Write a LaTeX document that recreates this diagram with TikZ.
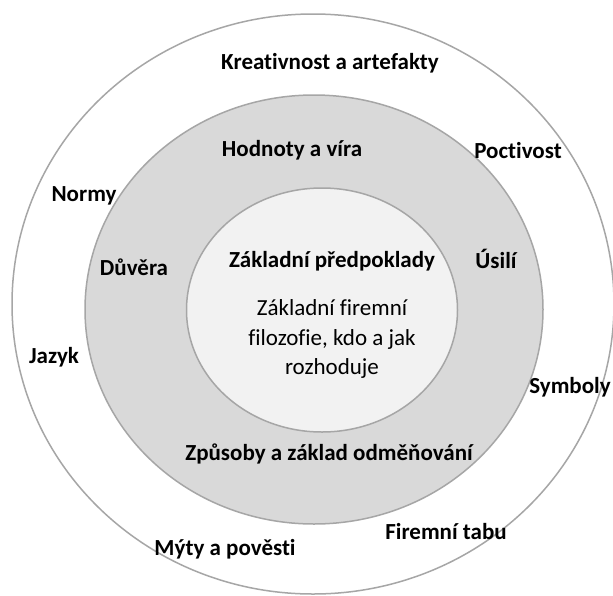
\documentclass[tikz,border=0pt]{standalone}
\usepackage{fontspec}
\setmainfont{Carlito}[Ligatures=NoCommon]
\definecolor{ringline}{HTML}{A6A6A6}
\definecolor{midfill}{HTML}{D9D9D9}
\definecolor{corefill}{HTML}{F2F2F2}
\begin{document}
\begin{tikzpicture}[x=1pt,y=-1pt,
  ring/.style={draw=ringline,line width=1.5pt},
  lbl/.style={font=\fontsize{23}{27}\selectfont\bfseries,anchor=base,inner sep=0pt},
  core/.style={font=\fontsize{23}{31}\selectfont,anchor=base,inner sep=0pt}]
\useasboundingbox[fill=white] (0,0) rectangle (613,595);
% three nested layers
\draw[ring,fill=white] (313,304) ellipse [x radius=301,y radius=290];
\draw[ring,fill=midfill] (314,309.5) ellipse [x radius=229,y radius=214.5];
\draw[ring,fill=corefill] (322,310) ellipse [x radius=135.5,y radius=122];
% outer layer
\node[lbl] (kreat) at (330,69) {Kreativnost a artefakty};
\node[lbl] (poct) at (518,158) {Poctivost};
\node[lbl] (normy) at (84,201) {Normy};
\node[lbl] (jazyk) at (54,363) {Jazyk};
\node[lbl] (symb) at (570,393) {Symboly};
\node[lbl] (tabu) at (446,539) {Firemní tabu};
\node[lbl] (myty) at (225,555) {Mýty a pověsti};
% middle layer
\node[lbl] (hodn) at (292,156) {Hodnoty a víra};
\node[lbl] (duv) at (134,275) {Důvěra};
\node[lbl] (usili) at (496,268) {Úsilí};
\node[lbl] (zpus) at (329,460) {Způsoby a základ odměňování};
% core
\node[lbl] (zakl) at (332,267) {Základní předpoklady};
\node[core] (c1) at (332,315) {Základní firemní};
\node[core] (c2) at (332,345) {filozofie, kdo a jak};
\node[core] (c3) at (332,374) {rozhoduje};
\end{tikzpicture}
\end{document}
